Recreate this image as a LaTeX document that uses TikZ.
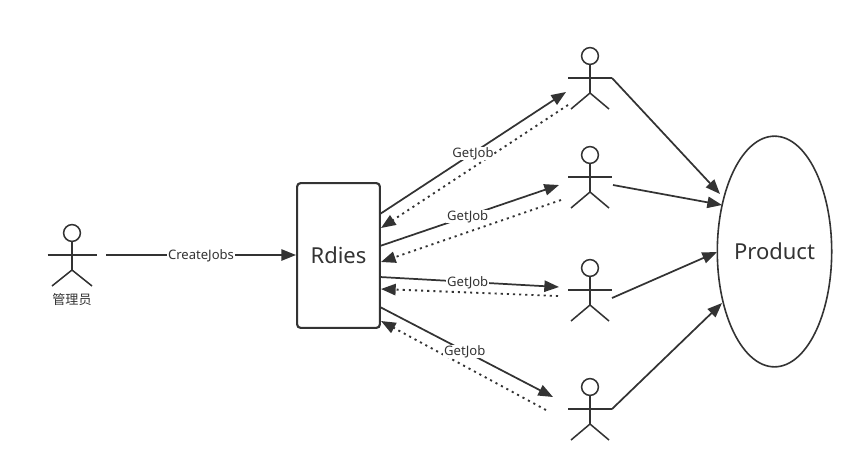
\documentclass[tikz,border=0pt]{standalone}
\usepackage{fontspec}
\setmainfont{Noto Sans}
\newfontfamily\cjk{Noto Sans CJK SC}
\usetikzlibrary{arrows.meta,shapes.geometric}
\definecolor{ink}{HTML}{333333}
\tikzset{
  x=0.75pt,y=-0.75pt,
  actorline/.style={line width=1.15pt,draw=ink},
  solidarrow/.style={draw=ink,line width=1.3pt,-{Triangle[length=11pt,width=8.5pt,fill=ink]}},
  dotarrow/.style={draw=ink,line width=1.4pt,dash pattern=on 1.6pt off 3pt,-{Triangle[length=11pt,width=8.5pt,fill=ink,sep=0pt]}},
  plainarrow/.style={solidarrow},
  lbl/.style={fill=white,text=ink,font=\fontsize{9.8}{11}\selectfont,inner xsep=0.6pt,inner ysep=0.2pt,draw=none,yshift=-0.4pt},
  bigtext/.style={text=ink,font=\fontsize{16.5}{20}\selectfont},
  actor/.pic={
    \node[circle,draw=ink,line width=1.15pt,minimum size=12.6pt,inner sep=0pt,fill=none] (-head) at (0,0) {};
    \draw[actorline] (-head.south) -- (0,37);
    \draw[actorline] (-22,22) -- (22,22);
    \draw[actorline] (-19,53) -- (0,37) -- (19,53);
  },
  bigactor/.pic={
    \node[circle,draw=ink,line width=1.15pt,minimum size=12.6pt,inner sep=0pt,fill=none] (-head) at (0,0) {};
    \draw[actorline] (-head.south) -- (0,37);
    \draw[actorline] (-24.5,22) -- (24.5,22);
    \draw[actorline] (-20,53) -- (0,37) -- (20,53);
  },
}
\begin{document}
\begin{tikzpicture}
\useasboundingbox (0,0) rectangle (863,472);
\pic (admin) at (72,233) {bigactor};
\pic (w1) at (590,56) {actor};
\pic (w2) at (590,155) {actor};
\pic (w3) at (590,268) {actor};
\pic (w4) at (590,387) {actor};
\node[text=ink,font=\cjk\fontsize{9.8}{11}\selectfont] (adminlabel) at (72,300) {管理员};
\node[draw=ink,line width=1.6pt,rounded corners=2.5pt,minimum width=62pt,minimum height=108.5pt,inner sep=0pt,bigtext] (rdies) at (338.5,255.5) {Rdies};
\node[ellipse,draw=ink,line width=1.2pt,minimum width=84.5pt,minimum height=173pt,inner sep=0pt,bigtext] (product) at (774.5,251.5) {Product};
% free ends
\coordinate (cs) at (106,255);
\coordinate (ce) at (296,255);
\coordinate (a1s) at (380,214); \coordinate (a1e) at (566,92);
\coordinate (d1s) at (568,105); \coordinate (d1e) at (381,228);
\coordinate (a2s) at (380,246); \coordinate (a2e) at (559,185);
\coordinate (d2s) at (561,200); \coordinate (d2e) at (381,262);
\coordinate (a3s) at (380,277); \coordinate (a3e) at (559,287);
\coordinate (d3s) at (558,296); \coordinate (d3e) at (381,289);
\coordinate (a4s) at (380,307); \coordinate (a4e) at (553,397);
\coordinate (d4s) at (546,410); \coordinate (d4e) at (381,321);
\coordinate (p1s) at (612,78);  \coordinate (p1e) at (720,194);
\coordinate (p2s) at (613,185); \coordinate (p2e) at (722,205);
\coordinate (p3s) at (612,298); \coordinate (p3e) at (717,252);
\coordinate (p4s) at (612,409); \coordinate (p4e) at (722,303);
% dotted replies
\draw[dotarrow] (d1s) -- (d1e);
\draw[dotarrow] (d2s) -- (d2e);
\draw[dotarrow] (d3s) -- (d3e);
\draw[dotarrow] (d4s) -- (d4e);
% requests
\draw[solidarrow] (cs) -- node[lbl] {CreateJobs} (ce);
\draw[solidarrow] (a1s) -- node[lbl,pos=.5] {GetJob} (a1e);
\draw[solidarrow] (a2s) -- node[lbl,pos=.49] {GetJob} (a2e);
\draw[solidarrow] (a3s) -- node[lbl,pos=.49] {GetJob} (a3e);
\draw[solidarrow] (a4s) -- node[lbl,pos=.49] {GetJob} (a4e);
% to product
\draw[plainarrow] (p1s) -- (p1e);
\draw[plainarrow] (p2s) -- (p2e);
\draw[plainarrow] (p3s) -- (p3e);
\draw[plainarrow] (p4s) -- (p4e);
\end{tikzpicture}
\end{document}
